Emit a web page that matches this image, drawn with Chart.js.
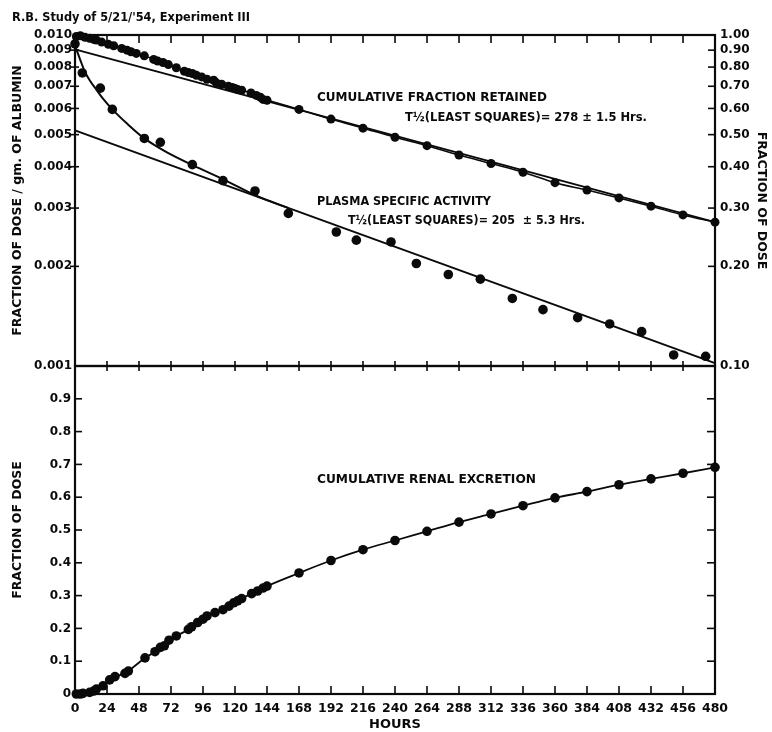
<!DOCTYPE html>
<html><head><meta charset="utf-8">
<script src="https://cdn.jsdelivr.net/npm/chart.js@4.4.0/dist/chart.umd.min.js"></script>
<style>
html,body{margin:0;padding:0;background:#fff;}
#wrap{position:relative;width:772px;height:732px;background:#fff;}
canvas{position:absolute;left:0;top:0;}
</style></head><body>
<div id="wrap"><canvas id="topc" width="772" height="732"></canvas><canvas id="botc" width="772" height="732"></canvas></div>
<script>
// ---------- data ----------
const hourTicks = [0,24,48,72,96,120,144,168,192,216,240,264,288,312,336,360,384,408,432,456,480];
const leftTicks = [0.001,0.002,0.003,0.004,0.005,0.006,0.007,0.008,0.009,0.010];
const leftTickLabels = ['0.001','0.002','0.003','0.004','0.005','0.006','0.007','0.008','0.009','0.010'];
const rightTicks = [0.10,0.20,0.30,0.40,0.50,0.60,0.70,0.80,0.90,1.00];
const rightTickLabels = ['0.10','0.20','0.30','0.40','0.50','0.60','0.70','0.80','0.90','1.00'];
const renalTicks = [0,0.1,0.2,0.3,0.4,0.5,0.6,0.7,0.8,0.9,1.0];
const renalTickLabels = ['0','0.1','0.2','0.3','0.4','0.5','0.6','0.7','0.8','0.9',''];

const retainedHours = [1,4,7.5,11,14,16,20,25,29,35,39,42,46,52,59,62,66,70,76,82,85,88,91,95,99,104,106,110,115,118,120,122,125,132,136,139,141,144,168,192,216,240,264,288,312,336,360,384,408,432,456,480];
const retainedValues = [0.99,0.995,0.984,0.977,0.970,0.966,0.952,0.937,0.928,0.911,0.900,0.890,0.880,0.865,0.844,0.834,0.826,0.814,0.796,0.777,0.770,0.765,0.756,0.747,0.735,0.730,0.717,0.710,0.700,0.694,0.689,0.684,0.681,0.668,0.657,0.649,0.639,0.635,0.596,0.557,0.523,0.491,0.463,0.434,0.409,0.385,0.358,0.340,0.322,0.304,0.286,0.272];
const retainedFitHours = [0,480];
const retainedFitValues = [0.905,0.272];

const plasmaHours = [0,5.5,19,28,52,64,88,111,135,160,196,211,237,256,280,304,328,351,377,401,425,449,473];
const plasmaValues = [0.0094,0.00768,0.00691,0.00596,0.00487,0.00474,0.00406,0.00363,0.00338,0.00289,0.00254,0.00240,0.00237,0.00204,0.00189,0.00183,0.00160,0.00148,0.00140,0.00134,0.00127,0.00108,0.00107];
const plasmaCurveHours = [0,4,7.5,11,16,21,28,39,52,69,89,112,136,160];
const plasmaCurveValues = [0.0093,0.0084,0.00773,0.0073,0.00684,0.00642,0.00596,0.0054,0.00487,0.00442,0.00403,0.00365,0.00327,0.00300];
const plasmaFitHours = [0,480];
const plasmaFitValues = [0.00515,0.00102];

const renalHours = [1,4,6,11,14,16,21,26,30,37.5,40,52.5,60,64,67,70.5,76,85,87.5,92,96,99,105,111,115.5,119,122,125,132.5,137,141,144,168,192,216,240,264,288,312,336,360,384,408,432,456,480];
const renalValues = [0,0,0.002,0.005,0.009,0.015,0.025,0.043,0.053,0.063,0.070,0.110,0.129,0.142,0.147,0.164,0.177,0.197,0.205,0.218,0.228,0.238,0.248,0.257,0.268,0.278,0.284,0.291,0.306,0.314,0.323,0.329,0.369,0.407,0.440,0.468,0.496,0.524,0.549,0.574,0.598,0.617,0.638,0.656,0.673,0.691];

// ---------- helpers ----------
const INK = '#0a0a0a';
const FAM = '"DejaVu Sans", "Liberation Sans", sans-serif';
const pts = (xs, ys) => xs.map((x,i)=>({x:x, y:ys[i]}));

function tickPlugin(specs){
  return { id:'frameTicks', afterDatasetsDraw(chart){
    const ctx = chart.ctx, a = chart.chartArea;
    ctx.save(); ctx.strokeStyle = INK; ctx.lineWidth = 1.6;
    specs.forEach(sp=>{
      const sc = chart.scales[sp.scale];
      sp.values.forEach(v=>{
        const p = sc.getPixelForValue(v);
        ctx.beginPath();
        if(sp.edge==='top'){ctx.moveTo(p,a.top-sp.out);ctx.lineTo(p,a.top+sp.inn);}
        else if(sp.edge==='bottom'){ctx.moveTo(p,a.bottom+sp.out);ctx.lineTo(p,a.bottom-sp.inn);}
        else if(sp.edge==='left'){ctx.moveTo(a.left-sp.out,p);ctx.lineTo(a.left+sp.inn,p);}
        else {ctx.moveTo(a.right+sp.out,p);ctx.lineTo(a.right-sp.inn,p);}
        ctx.stroke();
      });
    });
    ctx.lineWidth = 2.2;
    ctx.strokeRect(a.left, a.top, a.right-a.left, a.bottom-a.top);
    ctx.restore();
  }};
}
function textPlugin(items){
  return { id:'notes', afterDraw(chart){
    const ctx = chart.ctx;
    ctx.save(); ctx.fillStyle = INK; ctx.textBaseline = 'middle'; ctx.textAlign = 'left';
    items.forEach(t=>{ ctx.font = t.font; ctx.fillText(t.text, t.x, t.y, t.w); });
    ctx.restore();
  }};
}
const tickFont = {family: FAM, size: 12, weight: 'bold'};
const titleFont = {family: FAM, size: 12.5, weight: 'bold'};
const noteFont = 'bold 12.5px ' + FAM;
const inner = hourTicks.slice(1,-1);

// ---------- top panel ----------
new Chart(document.getElementById('topc'), {
  type: 'scatter',
  data: { datasets: [
    {label:'Cumulative fraction retained', data: pts(retainedHours, retainedValues), yAxisID:'yR', showLine:true,
     cubicInterpolationMode:'monotone', borderColor:INK, borderWidth:1.5, pointRadius:4.5, pointBackgroundColor:INK, pointBorderWidth:0, clip:10},
    {label:'Retained fit', data: pts(retainedFitHours, retainedFitValues), yAxisID:'yR', showLine:true,
     borderColor:INK, borderWidth:2, pointRadius:0, clip:10},
    {label:'Plasma curve', data: pts(plasmaCurveHours, plasmaCurveValues), yAxisID:'yL', showLine:true,
     cubicInterpolationMode:'monotone', borderColor:INK, borderWidth:2, pointRadius:0, clip:10},
    {label:'Plasma fit', data: pts(plasmaFitHours, plasmaFitValues), yAxisID:'yL', showLine:true,
     borderColor:INK, borderWidth:2, pointRadius:0, clip:10},
    {label:'Plasma specific activity', data: pts(plasmaHours, plasmaValues), yAxisID:'yL', showLine:false,
     pointRadius:4.8, pointBackgroundColor:INK, pointBorderWidth:0, clip:10}
  ]},
  options: {
    responsive:false, animation:false, events:[],
    layout:{padding:{top:35, bottom:366, left:0, right:0}},
    plugins:{legend:{display:false}, tooltip:{enabled:false}},
    scales:{
      x:{type:'linear', min:0, max:480, position:'bottom',
         ticks:{display:false}, grid:{display:false, drawTicks:false}, border:{display:false},
         afterFit:s=>{s.height=0;}},
      yL:{type:'logarithmic', position:'left', min:0.001, max:0.010,
          afterBuildTicks:s=>{s.ticks = leftTicks.map(v=>({value:v}));},
          ticks:{autoSkip:false, padding:3, color:INK, font:tickFont, callback:(v,i)=>leftTickLabels[i]},
          grid:{display:false, drawTicks:false}, border:{display:false},
          title:{display:true, text:'FRACTION OF DOSE / gm. OF ALBUMIN', color:INK, font:titleFont, padding:{top:10,bottom:0}},
          afterFit:s=>{s.width=75;}},
      yR:{type:'logarithmic', position:'right', min:0.1, max:1.0,
          afterBuildTicks:s=>{s.ticks = rightTicks.map(v=>({value:v}));},
          ticks:{autoSkip:false, padding:5, color:INK, font:tickFont, callback:(v,i)=>rightTickLabels[i]},
          grid:{display:false, drawTicks:false}, border:{display:false},
          title:{display:true, text:'FRACTION OF DOSE', color:INK, font:titleFont, padding:{top:3,bottom:0}},
          afterFit:s=>{s.width=57;}}
    }
  },
  plugins:[
    tickPlugin([
      {scale:'x', edge:'top', values:inner, inn:8, out:0},
      {scale:'yL', edge:'left', values:leftTicks.slice(1,-1), inn:4, out:5},
      {scale:'yR', edge:'right', values:rightTicks.slice(1,-1), inn:7, out:0}
    ]),
    textPlugin([
      {text:"R.B. Study of 5/21/'54, Experiment III", x:12, y:18, w:238, font:'bold 13px '+FAM},
      {text:'CUMULATIVE FRACTION RETAINED', x:317, y:98, w:230, font:noteFont},
      {text:'T½(LEAST SQUARES)= 278 ± 1.5 Hrs.', x:405, y:118, w:242, font:noteFont},
      {text:'PLASMA SPECIFIC ACTIVITY', x:317, y:202, w:174, font:noteFont},
      {text:'T½(LEAST SQUARES)= 205  ± 5.3 Hrs.', x:348, y:221, w:237, font:noteFont}
    ])
  ]
});

// ---------- bottom panel ----------
new Chart(document.getElementById('botc'), {
  type: 'scatter',
  data: { datasets: [
    {label:'Cumulative renal excretion', data: pts(renalHours, renalValues), yAxisID:'yL', showLine:true,
     cubicInterpolationMode:'monotone', borderColor:INK, borderWidth:1.8, pointRadius:4.8, pointBackgroundColor:INK, pointBorderWidth:0, clip:10}
  ]},
  options: {
    responsive:false, animation:false, events:[],
    layout:{padding:{top:366, bottom:0, left:0, right:0}},
    plugins:{legend:{display:false}, tooltip:{enabled:false}},
    scales:{
      x:{type:'linear', min:0, max:480, position:'bottom',
         afterBuildTicks:s=>{s.ticks = hourTicks.map(v=>({value:v}));},
         ticks:{autoSkip:false, maxRotation:0, padding:7, color:INK, font:{family:FAM, size:12.5, weight:'bold'}, callback:(v,i)=>String(hourTicks[i])},
         grid:{display:false, drawTicks:false}, border:{display:false},
         title:{display:true, text:'HOURS', color:INK, font:{family:FAM, size:13, weight:'bold'}, padding:{top:0,bottom:0}},
         afterFit:s=>{s.height=38;}},
      yL:{type:'linear', position:'left', min:0, max:1.0,
          afterBuildTicks:s=>{s.ticks = renalTicks.map(v=>({value:v}));},
          ticks:{autoSkip:false, padding:4, color:INK, font:tickFont, callback:(v,i)=>renalTickLabels[i]},
          grid:{display:false, drawTicks:false}, border:{display:false},
          title:{display:true, text:'FRACTION OF DOSE', color:INK, font:titleFont, padding:{top:10,bottom:0}},
          afterFit:s=>{s.width=75;}},
      yR:{type:'linear', position:'right', min:0, max:1.0,
          ticks:{display:false}, grid:{display:false, drawTicks:false}, border:{display:false},
          afterFit:s=>{s.width=57;}}
    }
  },
  plugins:[
    tickPlugin([
      {scale:'x', edge:'top', values:inner, inn:5, out:5},
      {scale:'x', edge:'bottom', values:inner, inn:8, out:0},
      {scale:'yL', edge:'left', values:renalTicks.slice(1,-1), inn:7, out:0},
      {scale:'yR', edge:'right', values:renalTicks.slice(1,-1), inn:8, out:0}
    ]),
    textPlugin([
      {text:'CUMULATIVE RENAL EXCRETION', x:317, y:480, w:219, font:noteFont}
    ])
  ]
});
</script>
</body></html>
